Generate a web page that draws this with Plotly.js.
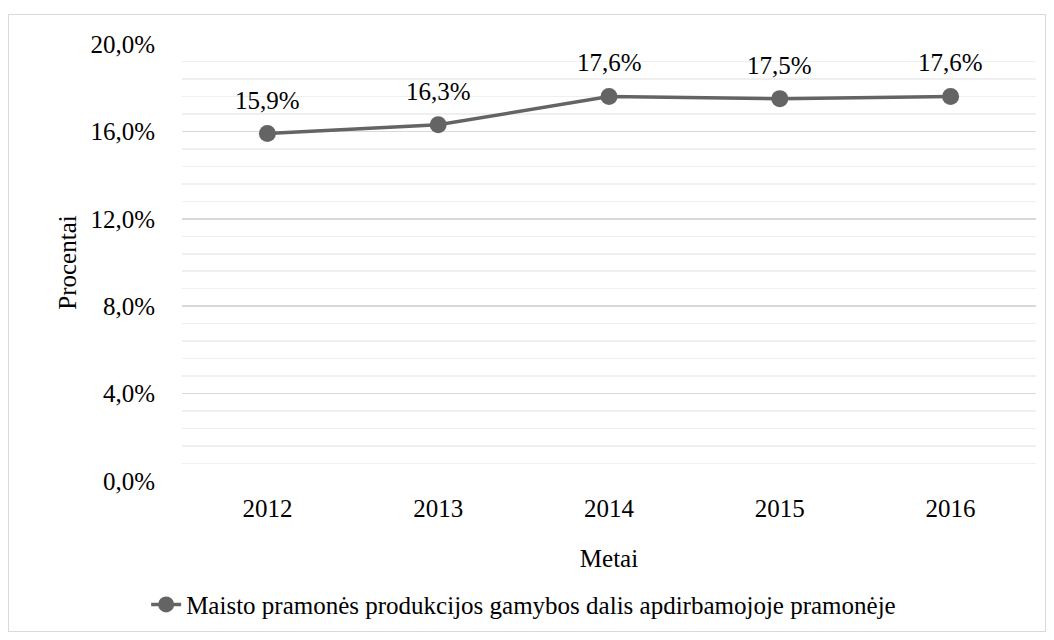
<!DOCTYPE html>
<html>
<head>
<meta charset="utf-8">
<script src="https://cdn.plot.ly/plotly-3.0.1.min.js"></script>
<style>
  body { margin: 0; background: #fff; }
  #frame { position: absolute; left: 8px; top: 14px; width: 1036px; height: 616px; border: 1px solid #d9d9d9; }
  #plot { position: absolute; left: 0; top: 0; width: 1054px; height: 640px; }
</style>
</head>
<body>
<div id="frame"></div>
<div id="plot"></div>
<script>
// metai ir maisto pramones dalis (%)
let years = ["2012", "2013", "2014", "2015", "2016"];
let shares = [15.9, 16.3, 17.6, 17.5, 17.6];
let pointLabels = ["15,9%", "16,3%", "17,6%", "17,5%", "17,6%"];
let yTicks = [0, 4, 8, 12, 16, 20];
let yTickLabels = ["0,0%", "4,0%", "8,0%", "12,0%", "16,0%", "20,0%"];
let seriesName = "Maisto pramonės produkcijos gamybos dalis apdirbamojoje pramonėje";

let font = { family: "Liberation Serif, Times New Roman, serif", size: 25, color: "#000" };

var data = [{
  x: years,
  y: shares,
  mode: "lines+markers",
  type: "scatter",
  name: seriesName,
  line: { color: "#646464", width: 3.5 },
  marker: { color: "#646464", size: 17 },
  hoverinfo: "skip",
  cliponaxis: false
}];

// data labels above the points
let labels = [];
for (let i = 0; i < years.length; i++) {
  labels.push({
    xref: "x", yref: "y",
    x: i, y: shares[i],
    text: pointLabels[i],
    showarrow: false,
    yanchor: "bottom",
    yshift: 18,
    font: { family: font.family, size: font.size, color: "#000" }
  });
}

var layout = {
  width: 1054,
  height: 640,
  margin: { l: 182, r: 18, t: 44, b: 156 },
  paper_bgcolor: "rgba(0,0,0,0)",
  plot_bgcolor: "rgba(0,0,0,0)",
  font: font,
  showlegend: true,
  annotations: labels,
  legend: {
    orientation: "h",
    x: -0.042, xanchor: "left",
    y: -0.283, yanchor: "middle",
    font: font,
    bgcolor: "rgba(0,0,0,0)"
  },
  xaxis: {
    type: "category",
    range: [-0.5, 4.5],
    showgrid: false,
    zeroline: false,
    showline: false,
    ticks: "",
    ticklabelstandoff: 10,
    tickfont: font,
    title: { text: "Metai", font: font, standoff: 28 }
  },
  yaxis: {
    range: [0, 20],
    tickvals: yTicks,
    ticktext: yTickLabels,
    tickfont: font,
    ticks: "",
    ticklabelstandoff: 26,
    gridcolor: "#d9d9d9",
    gridwidth: 1.5,
    zeroline: false,
    showline: false,
    minor: { dtick: 0.8, showgrid: true, gridcolor: "#efefef", gridwidth: 1.5 },
    title: { text: "Procentai", font: font, standoff: 6 }
  }
};

Plotly.newPlot("plot", data, layout, { displayModeBar: false, staticPlot: true });
</script>
</body>
</html>
